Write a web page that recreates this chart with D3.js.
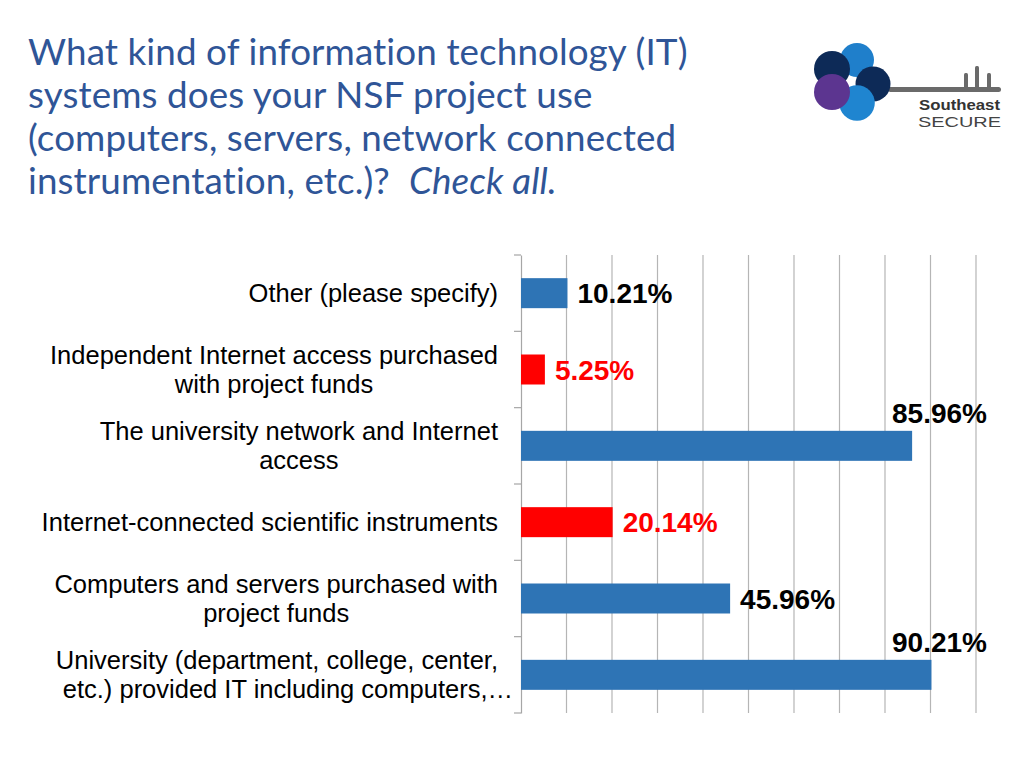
<!DOCTYPE html>
<html>
<head>
<meta charset="utf-8">
<script src="https://cdn.jsdelivr.net/npm/d3@7/dist/d3.min.js"></script>
<style>
  html, body { margin: 0; padding: 0; background: #ffffff; }
  svg { display: block; }
  text { font-variant-ligatures: none; font-feature-settings: "liga" 0, "clig" 0, "dlig" 0; }
  .title { letter-spacing: 0.1px; }
</style>
</head>
<body>
<svg id="chart" width="1024" height="768"></svg>
<script>
// ---- DATA ----
const categories = [
  "Other (please specify)",
  "Independent Internet access purchased\nwith project funds",
  "The university network and Internet\naccess",
  "Internet-connected scientific instruments",
  "Computers and servers purchased with\nproject funds",
  "University (department, college, center,\netc.) provided IT including computers,…"
];
const values = [10.21, 5.25, 85.96, 20.14, 45.96, 90.21];
const highlighted = [false, true, false, true, false, false];
const gridTicks = [0, 10, 20, 30, 40, 50, 60, 70, 80, 90, 100];
const titleLines = [
  "What kind of information technology (IT)",
  "systems does your NSF project use",
  "(computers, servers, network connected",
  "instrumentation, etc.)?"
];
const titleItalic = "Check all.";

// ---- STYLE / LAYOUT ----
const blue = "#2e74b5", red = "#ff0000";
const titleColor = "#2f5597";
const svg = d3.select("#chart");

// Title
const titleFont = "Lato, 'Open Sans', sans-serif";
const title = svg.append("g");
const baselines = [65, 108, 151, 194];
let fs = 36;
const probe = title.append("text").attr("class", "title").attr("font-family", titleFont).attr("font-size", fs).text(titleLines[0]);
const w0 = probe.node().getComputedTextLength();
probe.remove();
fs = fs * 660 / w0;
titleLines.forEach((t, i) => {
  const tx = title.append("text").attr("class", "title")
    .attr("x", 28).attr("y", baselines[i])
    .attr("font-family", titleFont).attr("font-size", fs)
    .attr("fill", titleColor).attr("xml:space", "preserve").text(t);
  if (i === 3) {
    tx.append("tspan").text("  ");
    tx.append("tspan").attr("font-style", "italic").text(titleItalic);
  }
});

// Logo
const logo = svg.append("g");
logo.append("rect").attr("x", 888).attr("y", 87).attr("width", 113).attr("height", 5).attr("rx", 2.5).attr("fill", "#6a6a6a");
[[966, 73], [977, 66], [989, 73]].forEach(([x, y]) => {
  logo.append("rect").attr("x", x - 2).attr("y", y).attr("width", 4).attr("height", 90 - y).attr("rx", 1.5).attr("fill", "#6a6a6a");
});
const circles = [
  [857, 60, 17, "#1f7fcb"],
  [832, 69, 18, "#0d2a57"],
  [873, 84, 17.5, "#0d2a57"],
  [857, 103, 17.8, "#1f85d0"],
  [832, 92, 18, "#5c3590"]
];
circles.forEach(([cx, cy, r, c]) => logo.append("circle").attr("cx", cx).attr("cy", cy).attr("r", r).attr("fill", c));
logo.append("circle").attr("cx", 850).attr("cy", 81).attr("r", 2.5).attr("fill", "#fff");
logo.append("text").attr("x", 919).attr("y", 110).attr("textLength", 81).attr("lengthAdjust", "spacingAndGlyphs")
  .attr("font-family", "'Liberation Sans', Arial, sans-serif").attr("font-weight", "bold")
  .attr("font-size", 15).attr("fill", "#333").text("Southeast");
logo.append("text").attr("x", 918).attr("y", 127).attr("textLength", 83).attr("lengthAdjust", "spacingAndGlyphs")
  .attr("font-family", "'Liberation Sans', Arial, sans-serif")
  .attr("font-size", 15).attr("fill", "#444").text("SECURE");

// Chart
const x0 = 521, x1 = 976, yTop = 255, yBot = 713;
const x = d3.scaleLinear().domain([0, 100]).range([x0, x1]);
const y = d3.scaleBand().domain(categories).range([yTop, yBot]).paddingInner(0.607).paddingOuter(0.3035);

const g = svg.append("g");
// gridlines
g.selectAll("line.grid").data(gridTicks.slice(1)).enter().append("line")
  .attr("x1", d => x(d)).attr("x2", d => x(d))
  .attr("y1", yTop).attr("y2", yBot)
  .attr("stroke", "#b5b5b5").attr("stroke-width", 1.2);

// category axis
const axis = d3.axisLeft(y).tickSize(0).tickFormat("");
const ag = g.append("g").attr("transform", `translate(${x0},0)`).call(axis);
ag.select(".domain").attr("stroke", "#a6a6a6").attr("stroke-width", 1.2);
// boundary tick marks
const bounds = d3.range(categories.length + 1).map(i => yTop + i * (yBot - yTop) / categories.length);
g.selectAll("line.tk").data(bounds).enter().append("line")
  .attr("x1", x0 - 7).attr("x2", x0).attr("y1", d => d).attr("y2", d => d)
  .attr("stroke", "#a6a6a6").attr("stroke-width", 1.2);

// bars
g.selectAll("rect.bar").data(values).enter().append("rect")
  .attr("x", x0).attr("y", (d, i) => y(categories[i]))
  .attr("width", d => x(d) - x0).attr("height", y.bandwidth())
  .attr("fill", (d, i) => highlighted[i] ? red : blue);

// category labels
const labelFont = "'Liberation Sans', Arial, sans-serif";
categories.forEach((c, i) => {
  const lines = c.split("\n");
  const cy = y(c) + y.bandwidth() / 2;
  const t = g.append("text").attr("font-family", labelFont).attr("font-size", 25.5).attr("fill", "#000");
  const lh = 29;
  const spans = lines.map((l, j) => t.append("tspan").attr("y", cy + (j - (lines.length - 1) / 2) * lh).attr("dy", "0.35em").text(l));
  const widths = spans.map(s => s.node().getComputedTextLength());
  const maxW = d3.max(widths);
  const truncated = lines[lines.length - 1].endsWith("…");
  // truncated labels overflow to the right by the ellipsis width
  const center = truncated ? 498 - widths[0] / 2 : 498 - maxW / 2;
  spans.forEach((s, j) => s.attr("x", truncated && j > 0 ? center + 11 : center).attr("text-anchor", "middle"));
});

// value labels
values.forEach((v, i) => {
  const cy = y(categories[i]) + y.bandwidth() / 2;
  const t = g.append("text").attr("font-family", labelFont).attr("font-weight", "bold")
    .attr("font-size", 28).attr("fill", highlighted[i] ? red : "#000")
    .text(v.toFixed(2) + "%");
  const w = t.node().getComputedTextLength();
  let lx = x(v) + 10, ly = cy;
  if (lx + w > 990) { lx = 987 - w; ly = y(categories[i]) - 18; }
  t.attr("x", lx).attr("y", ly).attr("dy", "0.36em");
});
</script>
</body>
</html>
